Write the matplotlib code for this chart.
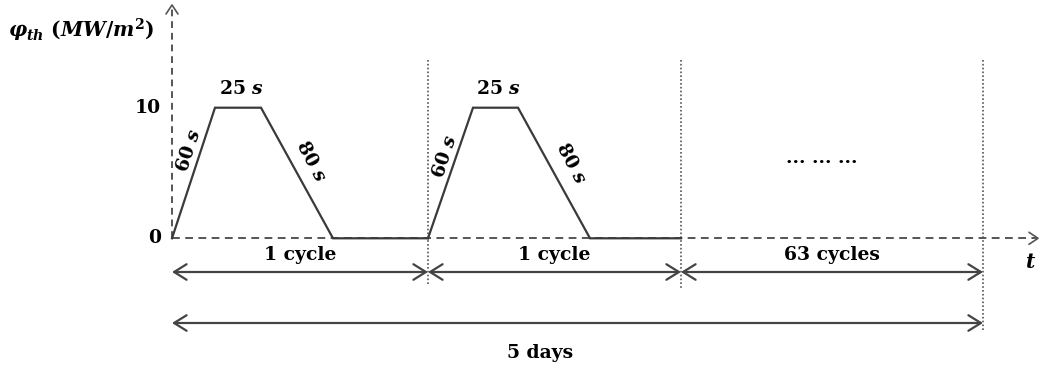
import matplotlib
matplotlib.use("Agg")
import matplotlib.pyplot as plt

plt.rcParams['mathtext.fontset'] = 'custom'
plt.rcParams['mathtext.rm'] = 'DejaVu Serif:bold'
plt.rcParams['mathtext.it'] = 'DejaVu Serif:bold:italic'
plt.rcParams['mathtext.bf'] = 'DejaVu Serif:bold'

# ---- data (schematic time axis, heat flux in MW/m^2) ----
cycle1_t = [172, 215, 261, 333, 428]
cycle2_t = [428, 473, 518, 590, 681]
flux_q = [0, 10, 10, 0, 0]
ytick_vals = [0, 10]
ytick_labels = ["0", "10"]
segment_bounds = [172, 428, 681, 983]
segment_labels = ["1 cycle", "1 cycle", "63 cycles"]
total_label = "5 days"
ramp_labels = [r"$60\ s$", r"$25\ s$", r"$80\ s$"]

# ---- layout helpers ----
Y0PIX, PX_PER_UNIT, H = 238.3, 13.06, 368
def py(ypix):
    return (Y0PIX - ypix) / PX_PER_UNIT

fig = plt.figure(figsize=(10.4, 3.68), dpi=100)
ax = fig.add_axes([0, 0, 1, 1])
ax.set_xlim(0, 1040)
ax.set_ylim(py(H), py(0))
ax.axis('off')

axis_col = '#555555'
line_col = '#3a3a3a'
txt = dict(fontfamily='DejaVu Serif', fontweight='bold', fontsize=13.5, color='black')

def chevron(x, ypix, direction, size=9, spread=6):
    if direction == 'right':
        ax.plot([x - size, x, x - size], [py(ypix - spread), py(ypix), py(ypix + spread)],
                color=axis_col, lw=1.2, solid_capstyle='round')
    elif direction == 'up':
        ax.plot([x - spread, x, x + spread], [py(ypix + size), py(ypix), py(ypix + size)],
                color=axis_col, lw=1.2, solid_capstyle='round')

# axes (dashed with open arrowheads)
ax.plot([172, 172], [py(Y0PIX), py(5)], color=axis_col, lw=1.4, ls=(0, (3.5, 2.5)))
chevron(172, 5, 'up')
ax.plot([172, 1038], [0, 0], color=axis_col, lw=1.4, ls=(0, (4, 2.8)))
chevron(1038, Y0PIX, 'right')

# vertical dotted separators
sep_bottoms = [285, 290, 330]
for xb, yb in zip(segment_bounds[1:], sep_bottoms):
    ax.plot([xb, xb], [py(60), py(yb)], color='#555555', lw=1.2, ls=(0, (1, 1.3)))

# cycles
for ct in (cycle1_t, cycle2_t):
    ax.plot(ct, flux_q, color=line_col, lw=1.6, solid_joinstyle='miter')

# y tick labels
for v, lab in zip(ytick_vals, ytick_labels):
    ax.text(161, v, lab, ha='right', va='center', **txt)

# y axis title
ax.text(8, py(30), r"$\varphi_{th}\ (MW/m^2)$", ha='left', va='center', fontsize=14.5)
# x axis label
ax.text(1031, py(262), r"$t$", ha='center', va='center', fontsize=14.5)

# ramp labels
ramp_pos = [[(189, 150, 72), (241, 89, 0), (311, 161, -62)],
            [(445, 156, 72), (498, 89, 0), (571, 163, -62)]]
for pos in ramp_pos:
    for (x, yp, rot), lab in zip(pos, ramp_labels):
        ax.text(x, py(yp), lab, ha='center', va='center', rotation=rot,
                rotation_mode='anchor', fontsize=13.5)

# dots
ax.text(822, py(158), "... ... ...", ha='center', va='center', **txt)

# segment arrows
arrow_kw = dict(arrowstyle='<->,head_length=0.45,head_width=0.28', color='#444444',
                lw=1.6, shrinkA=0, shrinkB=0, mutation_scale=20)
for i, lab in enumerate(segment_labels):
    x0, x1 = segment_bounds[i], segment_bounds[i + 1]
    ax.annotate('', xy=(x1, py(272)), xytext=(x0, py(272)), arrowprops=arrow_kw)
    ax.text((x0 + x1) / 2, py(255), lab, ha='center', va='center', **txt)

ax.annotate('', xy=(segment_bounds[-1], py(323)), xytext=(segment_bounds[0], py(323)),
            arrowprops=arrow_kw)
ax.text(540, py(353), total_label, ha='center', va='center', **txt)

fig.savefig('out.png', dpi=100)
